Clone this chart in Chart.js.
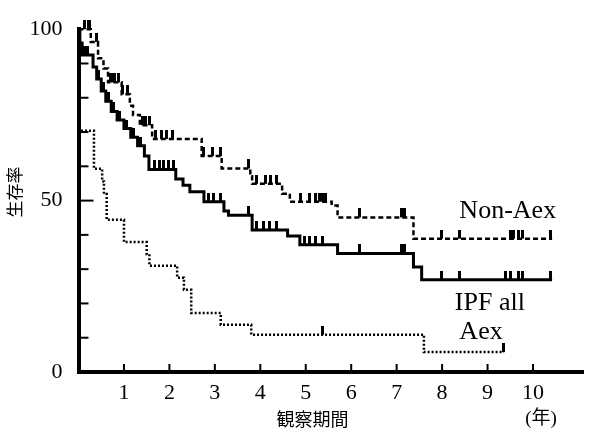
<!DOCTYPE html>
<html>
<head>
<meta charset="utf-8">
<script src="https://cdn.jsdelivr.net/npm/chart.js@4/dist/chart.umd.min.js"></script>
<style>
  html, body { margin: 0; padding: 0; background: #fff; }
  #wrap { width: 591px; height: 434px; }
</style>
</head>
<body>
<div id="wrap"><canvas id="km"></canvas></div>
<script>
// 生存曲線 (Kaplan-Meier) : 観察期間 (年) / 生存率 (%)
// IPF all
const ipfT = [0, 0.03, 0.08, 0.32, 0.40, 0.50, 0.60, 0.72, 0.85, 1.00, 1.15, 1.30, 1.45, 1.55, 2.14, 2.30, 2.45, 2.76, 3.20, 3.30, 3.82, 4.60, 4.87, 5.70, 7.37, 7.55, 10.42];
const ipfS = [100, 96, 92.5, 89, 85.5, 82, 79, 76, 73.5, 71, 68.5, 66, 63, 59.1, 56.3, 54.5, 52.6, 49.7, 47, 45.7, 41.4, 39.7, 37.1, 34.6, 30.6, 26.9, 26.9];
const ipfCensor = [0.10, 0.15, 0.20, 0.45, 0.55, 0.65, 0.78, 0.90, 1.05, 1.20, 1.36, 1.67, 1.78, 1.88, 1.99, 2.10, 2.87, 2.97, 3.13, 3.74, 3.91, 4.06, 4.21, 4.35, 4.98, 5.09, 5.22, 5.37, 6.18, 7.11, 7.18, 7.98, 8.38, 9.40, 9.51, 9.68, 9.77, 10.38];

// Non-Aex
const nonT = [0, 0.27, 0.43, 0.55, 0.65, 0.95, 1.13, 1.20, 1.35, 1.62, 2.71, 3.15, 3.78, 3.82, 4.48, 4.65, 5.57, 5.70, 7.37, 10.42];
const nonS = [100, 96.3, 91.5, 88.5, 84.5, 81, 77.7, 75, 72, 68, 63, 59.4, 57.1, 54.9, 52, 49.7, 48.6, 45.1, 38.9, 38.9];
const nonCensor = [0.14, 0.21, 0.25, 0.40, 0.70, 0.75, 0.80, 0.88, 0.97, 1.07, 1.40, 1.48, 1.56, 1.70, 1.83, 1.93, 2.06, 2.76, 2.94, 3.12, 3.74, 3.91, 4.11, 4.22, 4.35, 4.89, 5.09, 5.22, 5.30, 5.37, 5.44, 6.18, 7.11, 7.18, 7.98, 8.38, 9.51, 9.56, 9.68, 9.77, 10.38];

// Aex
const aexT = [0, 0.02, 0.34, 0.52, 0.56, 0.62, 1.00, 1.50, 1.56, 2.17, 2.32, 2.48, 3.13, 3.80, 7.60, 9.36];
const aexS = [100, 70.4, 59.3, 55.6, 51.9, 44.4, 37.9, 34.4, 31.0, 27.5, 24.0, 17.2, 13.8, 10.9, 5.8, 5.8];
const aexCensor = [5.37, 9.36];

const xTickLabels = [1, 2, 3, 4, 5, 6, 7, 8, 9, 10];
const yTickLabels = [0, 50, 100];

// 曲線ラベル (x: 年, y: %)
const curveLabels = [
  { text: 'Non-Aex', t: 8.38, s: 46.9 },
  { text: 'IPF all', t: 8.28, s: 20.0 },
  { text: 'Aex', t: 8.38, s: 11.7 }
];

function toPoints(ts, ss) {
  return ts.map((t, i) => ({ x: t, y: ss[i] }));
}

// 打ち切り時点の生存率を階段関数から求める
function censorPoints(times, ts, ss) {
  return times.map(t => {
    let s = ss[0];
    for (let i = 0; i < ts.length; i++) {
      if (ts[i] <= t) s = ss[i];
    }
    return { x: t, y: s };
  });
}

// 打ち切りの縦線 (点の上側だけ描く)
function censorMark(h) {
  const c = document.createElement('canvas');
  c.width = 3;
  c.height = h * 2;
  const g = c.getContext('2d');
  g.fillStyle = '#000';
  g.fillRect(0, 0, 3, h);
  return c;
}
const mark = censorMark(9);

const serif = "'Liberation Serif', 'Times New Roman', serif";
const jp = "'Noto Sans CJK JP', sans-serif";

const innerTicks = {
  id: 'innerTicks',
  afterDatasetsDraw(chart) {
    const { ctx, chartArea, scales: { x, y } } = chart;
    ctx.save();
    ctx.strokeStyle = '#000';
    ctx.lineWidth = 2;
    y.ticks.forEach(tk => {
      if (tk.value <= 0 || tk.value >= 100) return;
      const py = y.getPixelForValue(tk.value);
      const len = tk.value === 50 ? 15 : 10;
      ctx.beginPath();
      ctx.moveTo(chartArea.left, py);
      ctx.lineTo(chartArea.left + len, py);
      ctx.stroke();
    });
    x.ticks.forEach(tk => {
      if (!xTickLabels.includes(tk.value)) return;
      const px = x.getPixelForValue(tk.value);
      ctx.beginPath();
      ctx.moveTo(px, chartArea.bottom);
      ctx.lineTo(px, chartArea.bottom - 8);
      ctx.stroke();
    });

    ctx.fillStyle = '#000';
    ctx.textBaseline = 'middle';
    ctx.textAlign = 'left';
    ctx.font = '26px ' + serif;
    curveLabels.forEach(l => {
      ctx.fillText(l.text, x.getPixelForValue(l.t), y.getPixelForValue(l.s));
    });

    ctx.textAlign = 'center';
    ctx.font = '18px ' + jp;
    ctx.fillText('観察期間', x.getPixelForValue(5.15), chartArea.bottom + 47);
    ctx.font = '19px ' + serif + ', ' + jp;
    ctx.fillText('(年)', x.getPixelForValue(10) + 8, chartArea.bottom + 47);

    ctx.translate(15, 192);
    ctx.rotate(-Math.PI / 2);
    ctx.font = '17px ' + jp;
    ctx.fillText('生存率', 0, 0);
    ctx.restore();
  }
};

new Chart(document.getElementById('km'), {
  type: 'line',
  data: {
    datasets: [
      {
        label: 'Non-Aex',
        data: toPoints(nonT, nonS),
        stepped: true,
        borderColor: '#000',
        borderWidth: 2.5,
        borderDash: [5, 3],
        pointRadius: 0,
        fill: false,
        clip: false
      },
      {
        label: 'IPF all',
        data: toPoints(ipfT, ipfS),
        stepped: true,
        borderColor: '#000',
        borderWidth: 3,
        pointRadius: 0,
        fill: false,
        clip: false
      },
      {
        label: 'Aex',
        data: toPoints(aexT, aexS),
        stepped: true,
        borderColor: '#000',
        borderWidth: 2.5,
        borderDash: [2, 2],
        pointRadius: 0,
        fill: false,
        clip: false
      },
      {
        label: 'censor',
        data: censorPoints(nonCensor, nonT, nonS)
          .concat(censorPoints(ipfCensor, ipfT, ipfS))
          .concat(censorPoints(aexCensor, aexT, aexS)),
        showLine: false,
        pointStyle: mark,
        clip: false
      }
    ]
  },
  options: {
    responsive: true,
    maintainAspectRatio: false,
    animation: false,
    layout: { padding: { top: 22, right: 3, left: 0, bottom: 0 } },
    plugins: {
      legend: { display: false },
      tooltip: { enabled: false }
    },
    scales: {
      x: {
        type: 'linear',
        min: 0,
        max: 11.1,
        grid: { display: false, drawTicks: false },
        border: { color: '#000', width: 4 },
        ticks: {
          stepSize: 1,
          padding: 8,
          color: '#000',
          font: { family: serif, size: 22 },
          callback: v => (xTickLabels.includes(v) ? v : '')
        },
        afterFit: s => { s.height = 62; }
      },
      y: {
        min: 0,
        max: 100,
        grid: { display: false, drawTicks: false },
        border: { color: '#000', width: 4 },
        ticks: {
          stepSize: 10,
          padding: 16,
          color: '#000',
          font: { family: serif, size: 22 },
          callback: v => (yTickLabels.includes(v) ? v : '')
        },
        afterFit: s => { s.width = 78.5; }
      }
    }
  },
  plugins: [innerTicks]
});
</script>
</body>
</html>
